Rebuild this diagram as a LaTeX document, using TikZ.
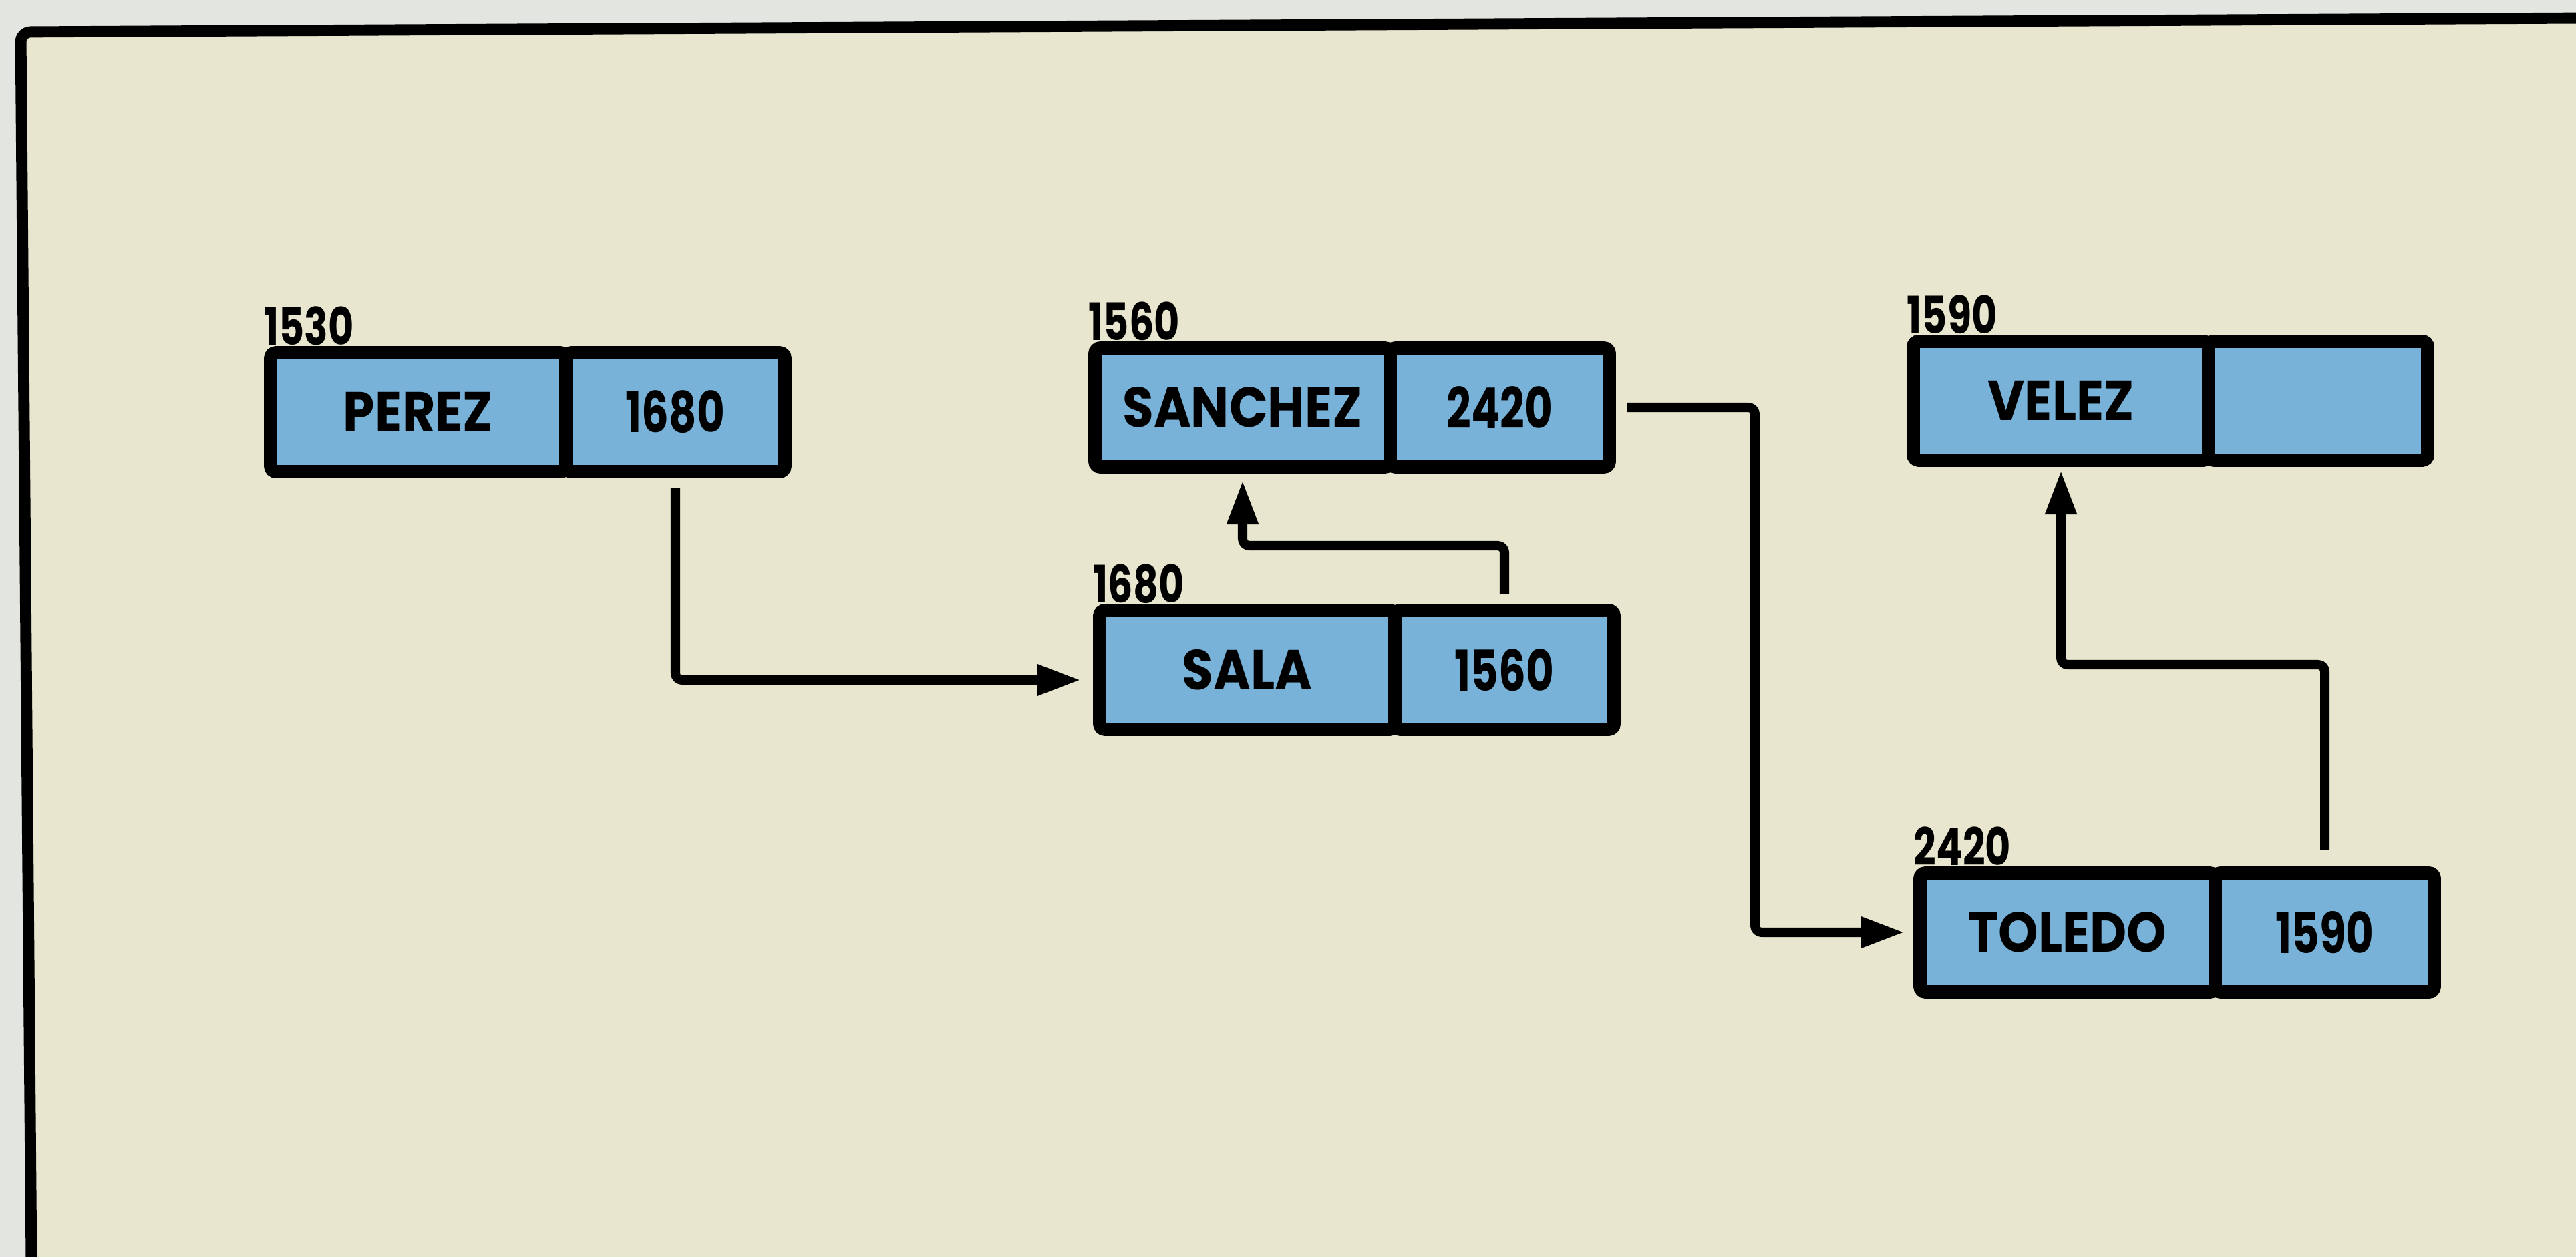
\documentclass[tikz,border=0pt]{standalone}
\usepackage{fontspec}
\usepackage{tikz}
\usetikzlibrary{arrows.meta,calc,positioning}
\newfontfamily\recfont{Poppins}[FakeStretch=0.9]
\newfontfamily\numfont{Poppins}[FakeStretch=0.76]
\definecolor{paper}{RGB}{232,230,206}
\definecolor{margin}{RGB}{226,229,224}
\definecolor{cellblue}{RGB}{120,178,216}

\begin{document}
\begin{tikzpicture}[
    namecell/.style={draw, line width=5.6pt, fill=cellblue, rounded corners=0.8mm, minimum width=4.42cm, minimum height=1.78cm, inner sep=0pt, outer sep=0pt, font=\recfont\bfseries\fontsize{24}{24}\selectfont},
    ptrcell/.style={namecell, minimum width=3.28cm, font=\numfont\bfseries\fontsize{24}{24}\selectfont},
    addr/.style={anchor=base west, inner sep=0pt, font=\numfont\bfseries\fontsize{22}{22}\selectfont},
    link/.style={line width=4pt, rounded corners=1mm, line join=round, -{Triangle[length=6.6mm, width=4.4mm]}}
]
    % Paper and frame
    \useasboundingbox (0,0) rectangle (38.56,-18.82);
    \fill[margin] (0,0) rectangle (38.56,-18.82);
    \fill[paper] (0.47,-18.82) -- (0.31,-0.48) -- (38.56,-0.27) -- (38.56,-18.82) -- cycle;
    \draw[line width=4.8pt, rounded corners=1.5mm] (0.47,-18.9) -- (0.31,-0.48) -- (38.7,-0.27);
    % Records
    \node[namecell] (perez) at (6.26,-6.17) {PEREZ};
    \node[ptrcell, right=0pt of perez] (perezp) {1680};
    \node[namecell] (sanchez) at (18.60,-6.10) {SANCHEZ};
    \node[ptrcell, right=0pt of sanchez] (sanchezp) {2420};
    \node[namecell] (sala) at (18.67,-10.03) {SALA};
    \node[ptrcell, right=0pt of sala] (salap) {1560};
    \node[namecell] (velez) at (30.85,-6.00) {VELEZ};
    \node[ptrcell, right=0pt of velez] (velezp) {};
    \node[namecell] (toledo) at (30.95,-13.96) {TOLEDO};
    \node[ptrcell, right=0pt of toledo] (toledop) {1590};
    % Addresses
    \node[addr] (a1530) at ([xshift=-1mm, yshift=1.2mm]perez.north west) {1530};
    \node[addr] (a1560) at ([xshift=-1mm, yshift=1.2mm]sanchez.north west) {1560};
    \node[addr] (a1680) at ([xshift=-1mm, yshift=1.2mm]sala.north west) {1680};
    \node[addr] (a1590) at ([xshift=-1mm, yshift=1.2mm]velez.north west) {1590};
    \node[addr] (a2420) at ([xshift=-1mm, yshift=1.2mm]toledo.north west) {2420};
    % Links
    \draw[link] ([yshift=-2.4mm]perezp.south) |- ([xshift=-2.8mm, yshift=-1.5mm]sala.west);
    \draw[link] ([yshift=2.5mm]salap.north) -- ++(0,0.72) -| ([yshift=-2mm]sanchez.south);
    \draw[link] ([xshift=2.7mm]sanchezp.east) -- ++(1.91,0) |- ([xshift=-2.3mm]toledo.west);
    \draw[link] ([yshift=3.5mm]toledop.north) -- ++(0,2.77) -| ([yshift=-1.5mm]velez.south);
\end{tikzpicture}
\end{document}
